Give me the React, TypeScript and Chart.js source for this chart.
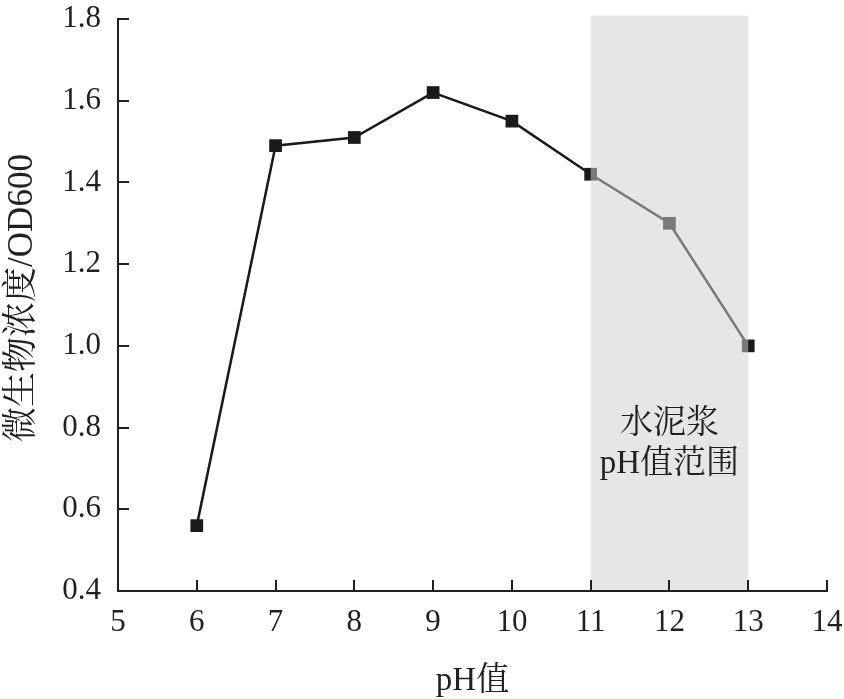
import React, { useEffect, useRef } from "react";
import { Chart, registerables } from "chart.js";

Chart.register(...registerables);

const phValues = [6, 7, 8, 9, 10, 11, 12, 13];
const odValues = [0.56, 1.49, 1.51, 1.62, 1.55, 1.42, 1.3, 1.0];
const xTicks = [5, 6, 7, 8, 9, 10, 11, 12, 13, 14];
const yTicks = [0.4, 0.6, 0.8, 1.0, 1.2, 1.4, 1.6, 1.8];
const shadeRange = [11, 13];
const shadeLabel = ["水泥浆", "pH值范围"];
const xTitle = "pH值";
const yTitle = "微生物浓度/OD600";

const FONT = '"Liberation Serif", "Noto Serif CJK SC", "Noto Sans CJK SC", serif';
const INK = "#231f20";

const overlayPlugin = {
  id: "overlay",
  afterDatasetsDraw(chart: any) {
    const { ctx, chartArea, scales } = chart;
    const x = scales.x;
    const y = scales.y;
    const x0 = x.getPixelForValue(shadeRange[0]);
    const x1 = x.getPixelForValue(shadeRange[1]);
    const yTop = y.getPixelForValue(1.808);
    ctx.save();
    ctx.fillStyle = "rgba(205,207,211,0.53)";
    ctx.fillRect(x0, yTop, x1 - x0, chartArea.bottom - 1 - yTop);
    ctx.restore();
  },
  afterDraw(chart: any) {
    const { ctx, chartArea, scales } = chart;
    const x = scales.x;
    const y = scales.y;
    ctx.save();
    ctx.strokeStyle = INK;
    ctx.lineWidth = 2;
    x.ticks.forEach((t: any) => {
      if (t.value === xTicks[0]) return;
      const px = Math.round(x.getPixelForValue(t.value));
      ctx.beginPath();
      ctx.moveTo(px, chartArea.bottom);
      ctx.lineTo(px, chartArea.bottom - 11);
      ctx.stroke();
    });
    y.ticks.forEach((t: any) => {
      if (t.value === yTicks[0]) return;
      const py = Math.round(y.getPixelForValue(t.value));
      ctx.beginPath();
      ctx.moveTo(chartArea.left, py);
      ctx.lineTo(chartArea.left + 11, py);
      ctx.stroke();
    });
    ctx.fillStyle = INK;
    ctx.textAlign = "center";
    ctx.textBaseline = "middle";
    ctx.font = `33px ${FONT}`;
    const cx = (x.getPixelForValue(shadeRange[0]) + x.getPixelForValue(shadeRange[1])) / 2;
    ctx.fillText(shadeLabel[0], cx, 424);
    ctx.fillText(shadeLabel[1], cx, 464);
    ctx.fillText(xTitle, (chartArea.left + chartArea.right) / 2, 681);
    ctx.font = `35px ${FONT}`;
    ctx.translate(23, 298);
    ctx.rotate(-Math.PI / 2);
    ctx.fillText(yTitle, 0, 0);
    ctx.restore();
  },
};

export default function App() {
  const ref = useRef<HTMLCanvasElement | null>(null);
  useEffect(() => {
    let chart: any = null;
    let cancelled = false;
    const build = () => {
      if (cancelled || !ref.current) return;
      chart = new Chart(ref.current, {
        type: "line",
        data: {
          datasets: [
            {
              data: phValues.map((v, i) => ({ x: v, y: odValues[i] })),
              borderColor: "#1a1a1a",
              borderWidth: 2.5,
              pointStyle: "rect",
              pointRadius: 9,
              pointBackgroundColor: "#1a1a1a",
              pointBorderColor: "#1a1a1a",
              pointBorderWidth: 0,
              tension: 0,
            },
          ],
        },
        options: {
          animation: false,
          responsive: false,
          maintainAspectRatio: false,
          layout: { autoPadding: false, padding: { left: 0, top: 19, right: 17, bottom: 0 } },
          plugins: { legend: { display: false }, tooltip: { enabled: false } },
          scales: {
            x: {
              type: "linear",
              min: 5,
              max: 14,
              afterBuildTicks: (s: any) => {
                s.ticks = xTicks.map((v) => ({ value: v }));
              },
              afterFit: (s: any) => {
                s.height = 108;
                s.paddingLeft = 0;
                s.paddingRight = 0;
                s.paddingTop = 0;
                s.paddingBottom = 0;
              },
              grid: { display: false, drawTicks: false },
              border: { display: true, color: INK, width: 2 },
              ticks: {
                color: INK,
                font: { family: FONT, size: 31 },
                padding: 13,
                maxRotation: 0,
                autoSkip: false,
              },
            },
            y: {
              type: "linear",
              min: 0.4,
              max: 1.8,
              afterBuildTicks: (s: any) => {
                s.ticks = yTicks.map((v) => ({ value: v }));
              },
              afterFit: (s: any) => {
                s.width = 118;
                s.paddingLeft = 0;
                s.paddingRight = 0;
                s.paddingTop = 0;
                s.paddingBottom = 0;
              },
              grid: { display: false, drawTicks: false },
              border: { display: true, color: INK, width: 2 },
              ticks: {
                color: INK,
                font: { family: FONT, size: 31 },
                padding: 17,
                autoSkip: false,
                callback: (v: any) => Number(v).toFixed(1),
              },
            },
          },
        },
        plugins: [overlayPlugin],
      } as any);
    };
    const fonts: any = (document as any).fonts;
    if (fonts && fonts.load) {
      Promise.all([
        fonts.load('30px "Liberation Serif"', "0123456789.pHOD"),
        fonts.load('30px "Noto Serif CJK SC"', "微生物浓度水泥浆值范围"),
        fonts.load('30px "Noto Sans CJK SC"', "微生物浓度水泥浆值范围"),
      ])
        .catch(() => null)
        .then(build);
    } else {
      build();
    }
    return () => {
      cancelled = true;
      if (chart) chart.destroy();
    };
  }, []);
  return (
    <div style={{ position: "absolute", left: 0, top: 0, width: 844, height: 699, background: "#fff" }}>
      <canvas ref={ref} width={844} height={699} style={{ width: 844, height: 699 }} />
    </div>
  );
}
